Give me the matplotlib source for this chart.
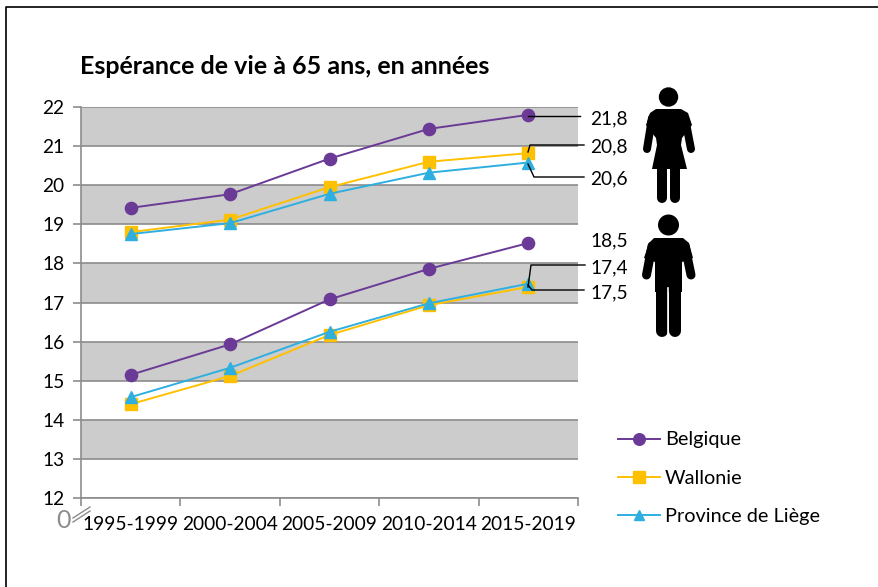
import matplotlib
matplotlib.use("Agg")
import matplotlib.pyplot as plt
from matplotlib.patches import Circle, Polygon

periods = ["1995-1999", "2000-2004", "2005-2009", "2010-2014", "2015-2019"]
belgique_f = [19.42, 19.77, 20.68, 21.44, 21.8]
wallonie_f = [18.8, 19.12, 19.95, 20.6, 20.82]
liege_f = [18.75, 19.03, 19.78, 20.32, 20.58]
belgique_m = [15.15, 15.93, 17.08, 17.86, 18.52]
wallonie_m = [14.4, 15.12, 16.17, 16.93, 17.4]
liege_m = [14.58, 15.33, 16.25, 16.98, 17.48]
yticks = list(range(12, 23))

purple = "#6a3a96"
yellow = "#ffc000"
blue = "#2eafe0"
grey = "#8c8c8c"
W, H = 879, 587
FS = 13.8

plt.rcParams["font.family"] = ["Lato", "DejaVu Sans"]
fig = plt.figure(figsize=(W/100, H/100), dpi=100)

# overlay in pixel coords, for frame, icons, leader lines
ov = fig.add_axes([0, 0, 1, 1], zorder=5)
ov.set_xlim(0, W)
ov.set_ylim(H, 0)
ov.axis("off")
ov.patch.set_alpha(0)

ax = fig.add_axes([81/W, 1-498/H, (578-81)/W, (498-107)/H], zorder=2)
ax.set_xlim(-0.5, 4.5)
ax.set_ylim(12, 22)
ax.set_yticks(yticks)
ax.set_xticks([0, 1, 2, 3, 4])
ax.set_xticklabels(periods)
ax.set_xticks([-0.5, 0.5, 1.5, 2.5, 3.5, 4.5], minor=True)
ax.tick_params(axis="x", which="major", length=0, labelsize=FS, pad=13, colors="black")
ax.tick_params(axis="x", which="minor", length=6, color=grey, width=1.2)
ax.tick_params(axis="y", length=6, color=grey, width=1.2, labelsize=FS, pad=6)
for s in ["top", "right"]:
    ax.spines[s].set_visible(False)
for s in ["left", "bottom"]:
    ax.spines[s].set_color(grey)
    ax.spines[s].set_linewidth(1.2)

for lo in [13, 15, 17, 19, 21]:
    ax.axhspan(lo, lo+1, color="#cccccc", lw=0, zorder=0)
ax.grid(axis="y", color=grey, lw=1.2, zorder=1)
ax.set_axisbelow(True)

x = list(range(5))
kw = dict(lw=1.4, zorder=3, clip_on=False)
ax.plot(x, belgique_f, color=purple, marker="o", ms=8.8, **kw)
ax.plot(x, wallonie_f, color=yellow, marker="s", ms=8.5, **kw)
ax.plot(x, liege_f, color=blue, marker="^", ms=8, **kw)
l1, = ax.plot(x, belgique_m, color=purple, marker="o", ms=8.8, **kw)
l2, = ax.plot(x, wallonie_m, color=yellow, marker="s", ms=8.5, **kw)
l3, = ax.plot(x, liege_m, color=blue, marker="^", ms=8, **kw)

# frame, bottom and right run off the picture
ov.plot([6, 6, 879], [587, 7, 7], color="black", lw=1.2, clip_on=False)

ov.text(80, 67, "Espérance de vie à 65 ans, en années", fontsize=18, fontweight="bold",
        va="center", ha="left", color="black")

# axis break
ov.plot([73, 90], [522, 511], color=grey, lw=1)
ov.plot([73, 90], [518, 507], color=grey, lw=1)
ov.text(64, 520, "0", color=grey, fontsize=18, ha="center", va="center")

# legend
ov.legend([l1, l2, l3], ["Belgique", "Wallonie", "Province de Liège"], frameon=False,
          loc="upper left", bbox_to_anchor=(618/W, 1-431.5/H), bbox_transform=fig.transFigure,
          fontsize=14.3, handlelength=2.1, handletextpad=0.25, labelspacing=1.08, borderpad=0, borderaxespad=0,
          markerscale=0.95)

# value labels and leaders
labels = [("21,8", 119), ("20,8", 147), ("20,6", 179), ("18,5", 241), ("17,4", 268), ("17,5", 293)]
for txt, y in labels:
    ov.text(590, y, txt, fontsize=FS, va="center", ha="left", color="black")
leaders = [
    ([528, 580], [116, 116]),
    ([528, 530, 584], [152, 145, 145]),
    ([528, 534, 584], [164, 177, 177]),
    ([528, 531, 585], [287, 265, 265]),
    ([528, 532, 584], [285, 290, 290]),
]
for lx, ly in leaders:
    ov.plot(lx, ly, color="black", lw=1)

def limb(p, q, w):
    ov.plot(p, q, color="black", lw=w*0.72, solid_capstyle="round", solid_joinstyle="round")

# woman
ov.add_patch(Circle((668.5, 97), 9.7, color="black", lw=0))
ov.add_patch(Polygon([(656, 109), (681, 109), (688, 113), (692, 125), (682, 138), (681, 145), (687, 169),
                      (652, 169), (657, 145), (656, 138), (646, 125), (650, 113)],
                     color="black", lw=0))
limb([652, 647], [118, 149], 8)
limb([685, 691], [118, 149], 8)
limb([662, 662], [165, 198], 10)
limb([675.5, 675.5], [165, 198], 10)
# man
ov.add_patch(Circle((668.5, 225), 10.5, color="black", lw=0))
ov.add_patch(Polygon([(654, 238), (683, 238), (689, 243), (693, 258), (682, 262), (682, 292),
                      (655, 292), (655, 262), (644, 258), (649, 243)], color="black", lw=0))
limb([652, 646.5], [246, 275], 9)
limb([685, 691], [246, 275], 9)
limb([662, 662], [285, 331], 12)
limb([675, 675], [285, 331], 12)
ov.plot([668.5, 668.5], [288, 338], color="white", lw=1.2)

fig.savefig("out.png", dpi=100)
